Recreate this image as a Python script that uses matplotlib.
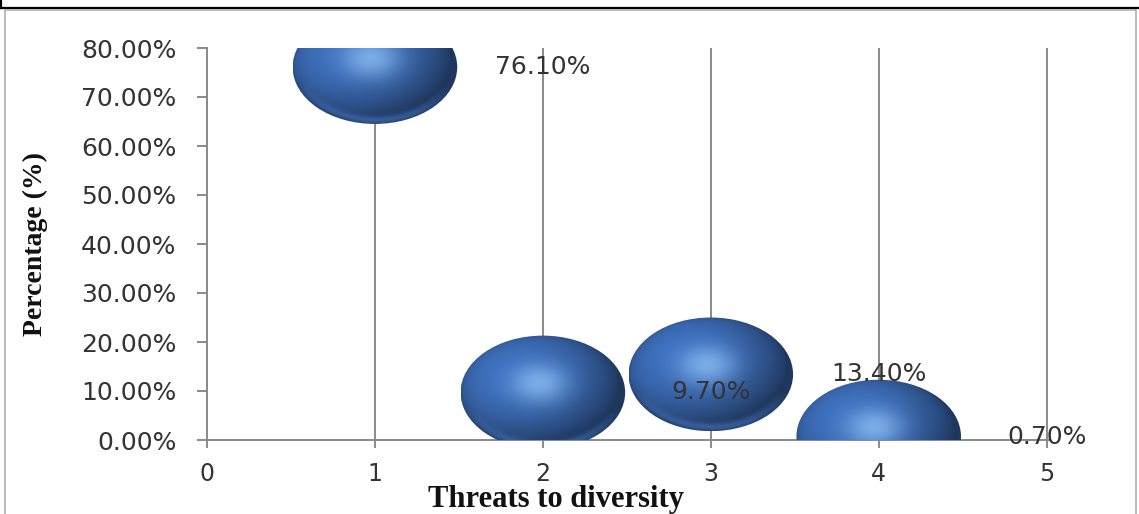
import numpy as np
import matplotlib
matplotlib.use("Agg")
import matplotlib.pyplot as plt
from matplotlib.patches import Ellipse
from matplotlib.lines import Line2D
from matplotlib.ticker import FuncFormatter, MultipleLocator

# Survey responses: share of respondents per threat category
threat = [1, 2, 3, 4]
share = [76.1, 9.7, 13.4, 0.7]

X_TICKS = [0, 1, 2, 3, 4, 5]
Y_MAX = 80

BUBBLE_W = 0.98    # bubble width in x units
BUBBLE_H = 23.2    # bubble height in percentage points
AXIS_GREY = "#8a8a8a"
TEXT_GREY = "#333333"


def sphere_rgba(n=240):
    """Shaded sphere texture (soft light from upper left) on a unit square."""
    u = np.linspace(-1, 1, n)
    uu, vv = np.meshgrid(u, u)
    r2 = uu ** 2 + vv ** 2
    nz = np.sqrt(np.clip(1 - r2, 0, 1))
    light = np.array([-0.38, 0.38, 0.84])
    light /= np.linalg.norm(light)
    diff = np.clip(uu * light[0] + vv * light[1] + nz * light[2], 0, 1)
    key = np.array([-0.1, 0.32, 0.94])
    key /= np.linalg.norm(key)
    half = key + np.array([0, 0, 1.0])
    half /= np.linalg.norm(half)
    spec = np.clip(uu * half[0] + vv * half[1] + nz * half[2], 0, 1) ** 16

    base = np.array([0.25, 0.45, 0.76])
    hi = np.array([0.58, 0.78, 0.98])
    col = base[None, None, :] * (0.48 + 0.52 * diff[..., None])
    col = col + (hi - col) * spec[..., None] * 0.7
    # bounce light along the lower rim
    rim = np.exp(-((np.sqrt(r2) - 0.93) / 0.07) ** 2) * np.clip(-vv - 0.3, 0, 1)
    col = col + (np.array([0.34, 0.55, 0.90]) - col) * rim[..., None] * 0.7
    rgba = np.dstack([np.clip(col, 0, 1), np.ones_like(r2)])
    return rgba


fig = plt.figure(figsize=(11.39, 5.14), dpi=100)
W, H = 1139, 514

# axes placed so that x=0..5 spans the plot area
left_px, right_px, top_px, bot_px = 207, 1050, 48, 440
ax = fig.add_axes([left_px / W, 1 - bot_px / H,
                   (right_px - left_px) / W, (bot_px - top_px) / H])

tex = sphere_rgba()
for x, y in zip(threat, share):
    ell = Ellipse((x, y), BUBBLE_W, BUBBLE_H, fill=False, lw=0,
                  transform=ax.transData)
    ax.add_patch(ell)
    im = ax.imshow(tex, origin="lower", aspect="auto", interpolation="bilinear",
                   extent=[x - BUBBLE_W / 2, x + BUBBLE_W / 2,
                           y - BUBBLE_H / 2, y + BUBBLE_H / 2], zorder=3)
    im.set_clip_path(ell)

# value labels sit one category to the right of each bubble
for x, y in zip(threat, share):
    ax.text(x + 1, y, f"{y:.2f}%", ha="center", va="center",
            fontsize=18, color=TEXT_GREY, zorder=5, clip_on=False)

ax.set_xlim(0, 5.02)
ax.set_ylim(0, Y_MAX)
ax.set_xticks(X_TICKS)
ax.yaxis.set_major_locator(MultipleLocator(10))
ax.yaxis.set_major_formatter(FuncFormatter(lambda v, _: f"{v:.2f}%"))

ax.xaxis.grid(True, color=AXIS_GREY, linewidth=1.4, zorder=1)
ax.set_axisbelow(True)
for side in ("top", "right"):
    ax.spines[side].set_visible(False)
for side in ("left", "bottom"):
    ax.spines[side].set_color(AXIS_GREY)
    ax.spines[side].set_linewidth(1.4)

ax.tick_params(axis="y", direction="out", length=7, width=1.4,
               color=AXIS_GREY, labelsize=18, labelcolor=TEXT_GREY, pad=15)
ax.tick_params(axis="x", direction="out", length=6, width=1.4,
               color=AXIS_GREY, labelsize=17, labelcolor=TEXT_GREY, pad=10)
for lbl in ax.get_xticklabels() + ax.get_yticklabels():
    lbl.set_fontfamily("DejaVu Sans")

ax.set_xlabel("Threats to diversity", fontsize=22, fontweight="bold",
              family="Liberation Serif", color="#111111")
ax.xaxis.set_label_coords((556 - left_px) / (right_px - left_px),
                          -(499 - bot_px) / (bot_px - top_px))
ax.xaxis.label.set_va("center")
ax.set_ylabel("Percentage (%)", fontsize=20, fontweight="bold",
              family="Liberation Serif", color="#111111")
ax.yaxis.set_label_coords(-(left_px - 35) / (right_px - left_px), 0.5)
ax.yaxis.label.set_va("center")

# page rule above the chart and the chart frame
fig.add_artist(Line2D([0, 1], [1 - 7.5 / H] * 2, color="black", lw=1.6))
fig.add_artist(Line2D([1 / W] * 2, [1, 1 - 8 / H], color="black", lw=1.6))
frame = dict(color="#b0b0b0", lw=1.2)
fig.add_artist(Line2D([5 / W, 1136 / W], [1 - 10 / H] * 2, **frame))
fig.add_artist(Line2D([5 / W] * 2, [1 - 10 / H, 0], **frame))
fig.add_artist(Line2D([1136 / W] * 2, [1 - 10 / H, 0], **frame))

fig.savefig("out.png", dpi=100, facecolor="white")
